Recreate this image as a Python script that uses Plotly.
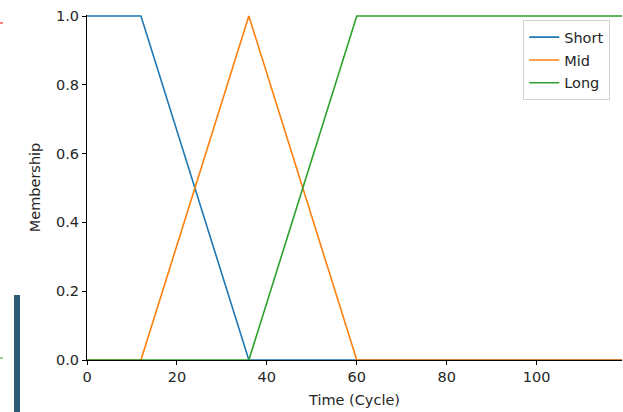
import plotly.graph_objects as go

# Breakpoints of the membership functions (Time in cycles)
x_pts = [0, 12, 36, 60, 119]
short_vals = [1.0, 1.0, 0.0, 0.0, 0.0]
mid_vals = [0.0, 0.0, 1.0, 0.0, 0.0]
long_vals = [0.0, 0.0, 0.0, 1.0, 1.0]
series_names = ["Short", "Mid", "Long"]
series_colors = ["#1f77b4", "#ff7f0e", "#2ca02c"]
y_ticks = [0.0, 0.2, 0.4, 0.6, 0.8, 1.0]
x_ticks = [0, 20, 40, 60, 80, 100]

FONT = "DejaVu Sans"
FS = 14.5

fig = go.Figure()
for name, vals, col in zip(series_names, [short_vals, mid_vals, long_vals], series_colors):
    fig.add_trace(go.Scatter(x=x_pts, y=vals, mode="lines", name=name, legendgroup=name,
                             line=dict(color=col, width=1.6)))

fig.update_layout(
    width=623, height=412,
    margin=dict(l=87, r=1, t=15, b=52),
    paper_bgcolor="white", plot_bgcolor="white",
    font=dict(family=FONT, size=FS, color="#262626"),
    legend=dict(x=0.978, y=0.985, xanchor="right", yanchor="top",
                bgcolor="rgba(255,255,255,0.9)", bordercolor="#d0d0d0", borderwidth=1,
                font=dict(family=FONT, size=FS, color="#262626"),
                traceorder="grouped", tracegroupgap=1, itemwidth=30),
    showlegend=True,
)
fig.update_xaxes(range=[0, 119], tickvals=x_ticks, showgrid=False, zeroline=False,
                 showline=True, linecolor="black", linewidth=1,
                 ticks="outside", ticklen=4, tickcolor="black",
                 title=dict(text="Time (Cycle)", font=dict(size=FS), standoff=10))
fig.update_yaxes(range=[0, 1.003], tickvals=y_ticks, tickformat=".1f", showgrid=False,
                 zeroline=False, showline=True, linecolor="black", linewidth=1,
                 ticks="outside", ticklen=4, tickcolor="black",
                 title=dict(text="Membership", font=dict(size=FS), standoff=11))

# cropping artifacts visible at the left edge of the reference
fig.add_shape(type="rect", xref="paper", yref="paper",
              x0=-73/535, x1=-67/535, y0=-52/345, y1=(360-295)/345,
              fillcolor="#2f5a73", line_width=0, layer="above")
fig.add_shape(type="line", xref="paper", yref="paper",
              x0=-87/535, x1=-84/535, y0=(360-23)/345, y1=(360-23)/345,
              line=dict(color="red", width=1))
fig.add_shape(type="line", xref="paper", yref="paper",
              x0=-87/535, x1=-84/535, y0=(360-358)/345, y1=(360-358)/345,
              line=dict(color="#2ca02c", width=1))

fig.write_html("out.html", config={"displayModeBar": False},
               post_script="document.body.style.margin='0';document.body.style.overflow='hidden';")
